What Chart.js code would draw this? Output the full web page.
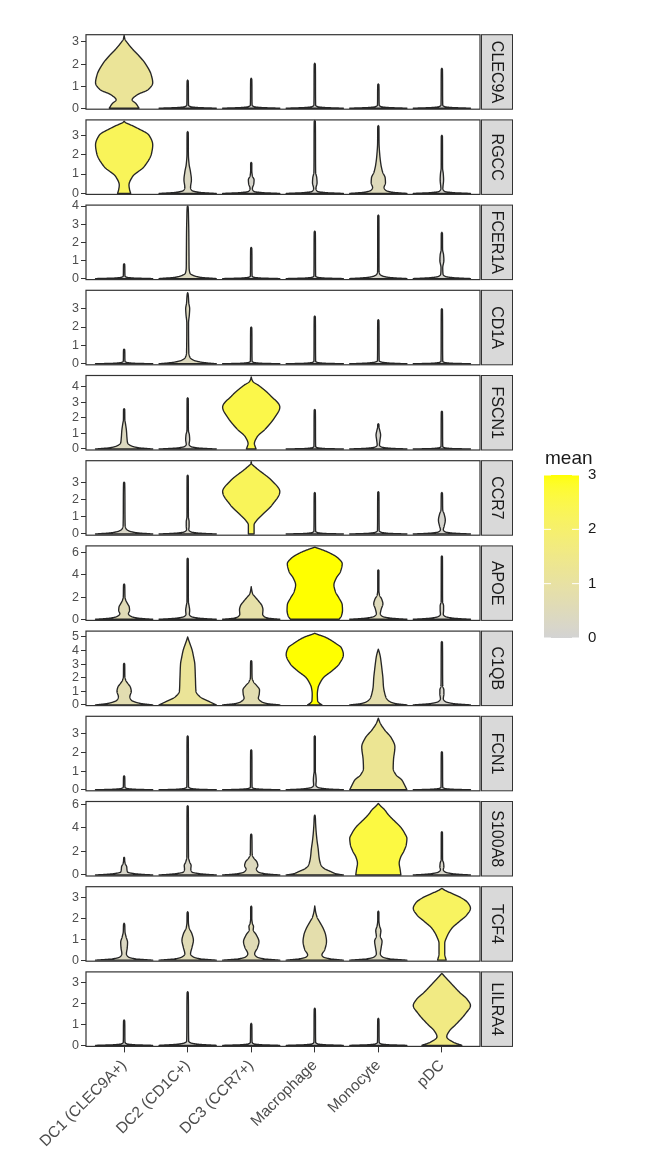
<!DOCTYPE html>
<html><head><meta charset="utf-8">
<script src="https://cdn.jsdelivr.net/npm/chart.js@4.4.0/dist/chart.umd.min.js"></script>
<style>
html,body{margin:0;padding:0;background:#fff;}
#wrap{position:relative;width:646px;height:1170px;overflow:hidden;background:#fff;}
#wrap canvas{position:absolute;left:0;top:0;}
</style></head><body><div id="wrap"></div>
<script>
// ---------------- data ----------------
const cellTypes = ['DC1 (CLEC9A+)','DC2 (CD1C+)','DC3 (CCR7+)','Macrophage','Monocyte','pDC'];
const genes = ['CLEC9A','RGCC','FCER1A','CD1A','FSCN1','CCR7','APOE','C1QB','FCN1','S100A8','TCF4','LILRA4'];
const yTicks = [[0,1,2,3],[0,1,2,3],[0,1,2,3,4],[0,1,2,3],[0,1,2,3,4],[0,1,2,3],[0,2,4,6],[0,1,2,3,4,5],[0,1,2,3],[0,2,4,6],[0,1,2,3],[0,1,2,3]];
const yLimits = [[-0.045,3.33],[-0.05,3.79],[-0.055,4.05],[-0.055,4.0],[-0.065,4.74],[-0.07,4.24],[-0.1,6.61],[-0.05,5.43],[-0.055,3.95],[-0.085,6.23],[-0.05,3.5],[-0.05,3.5]];
// mean expression per gene (rows) and cell type (columns) -> fill colour
const meanExpr = [
  [1.2,0.05,0.05,0.05,0.05,0.05],
  [2.3,0.35,0.15,0.15,0.5,0.1],
  [0.05,0.4,0.05,0.05,0.15,0.1],
  [0.05,0.45,0.05,0.05,0.05,0.05],
  [0.4,0.15,2.5,0.05,0.1,0.05],
  [0.25,0.2,2.3,0.05,0.05,0.1],
  [0.6,0.3,0.9,3.0,0.5,0.2],
  [0.7,1.2,0.7,3.3,0.8,0.15],
  [0.05,0.05,0.05,0.1,1.3,0.05],
  [0.2,0.25,0.45,0.7,2.6,0.2],
  [0.35,0.6,0.6,0.8,0.4,2.2],
  [0.05,0.1,0.05,0.05,0.05,1.6]
];
const legendTicks = [0,1,2,3];
// violin outlines per gene: for each cell type, [expression, relative half-width]
const CLEC9A = [
  [[0,.52],[.2,.42],[.38,.28],[.6,.45],[.85,.85],[1.15,1],[1.5,.95],[2.04,.73],[2.4,.5],[2.64,.32],[2.95,.12],[3.12,.03],[3.3,0]],
  [[0,1],[.03,.35],[.07,.1],[.14,.03],[1.22,.02],[1.28,0]],
  [[0,1],[.03,.35],[.07,.1],[.14,.03],[1.3,.02],[1.36,0]],
  [[0,1],[.03,.35],[.07,.1],[.14,.03],[1.98,.02],[2.04,0]],
  [[0,1],[.03,.35],[.07,.1],[.14,.03],[1.06,.02],[1.1,0]],
  [[0,1],[.03,.35],[.07,.1],[.14,.03],[1.76,.02],[1.81,0]]
];
const RGCC = [
  [[0,.23],[.2,.19],[.43,.17],[.86,.29],[1.38,.7],[2.07,.96],[2.5,1],[3.0,.87],[3.36,.47],[3.55,.2],[3.65,.05],[3.72,0]],
  [[0,1],[.05,.45],[.15,.15],[.3,.1],[.7,.13],[1.1,.1],[1.5,.05],[2.0,.025],[3.13,.02],[3.19,0]],
  [[0,1],[.04,.4],[.1,.1],[.25,.04],[.5,.09],[.7,.1],[.9,.04],[1.2,.02],[1.55,.02],[1.6,0]],
  [[0,1],[.04,.4],[.1,.1],[.25,.04],[.55,.08],[.8,.07],[1.1,.03],[3.7,.02],[3.76,0]],
  [[0,1],[.06,.5],[.15,.27],[.3,.2],[.55,.25],[.8,.24],[1.1,.15],[1.5,.09],[2.0,.05],[2.6,.025],[3.44,.02],[3.5,0]],
  [[0,1],[.04,.4],[.1,.1],[.25,.035],[.7,.06],[1.0,.05],[1.3,.025],[2.94,.02],[3.0,0]]
];
const FCER1A = [
  [[0,1],[.03,.35],[.07,.1],[.14,.03],[.78,.02],[.82,0]],
  [[0,1],[.07,.45],[.17,.2],[.3,.08],[.6,.05],[1.5,.045],[2.5,.04],[3.3,.03],[3.95,.015],[4.0,0]],
  [[0,1],[.03,.35],[.07,.1],[.14,.03],[1.66,.02],[1.72,0]],
  [[0,1],[.03,.35],[.07,.1],[.14,.03],[2.56,.02],[2.62,0]],
  [[0,1],[.06,.4],[.14,.15],[.25,.05],[.4,.025],[3.45,.02],[3.5,0]],
  [[0,1],[.05,.4],[.12,.12],[.25,.04],[.6,.03],[1.0,.07],[1.3,.06],[1.6,.025],[2.49,.02],[2.55,0]]
];
const CD1A = [
  [[0,1],[.03,.35],[.07,.1],[.14,.03],[.76,.02],[.8,0]],
  [[0,1],[.08,.5],[.2,.2],[.35,.08],[.6,.04],[2.2,.03],[2.7,.06],[3.0,.07],[3.3,.04],[3.8,.015],[3.87,0]],
  [[0,1],[.03,.35],[.07,.1],[.14,.03],[1.95,.02],[2.0,0]],
  [[0,1],[.03,.35],[.07,.1],[.14,.03],[2.55,.02],[2.6,0]],
  [[0,1],[.04,.4],[.09,.12],[.17,.03],[2.35,.02],[2.4,0]],
  [[0,1],[.03,.35],[.07,.1],[.14,.03],[2.95,.02],[3.0,0]]
];
const FSCN1 = [
  [[0,1],[.08,.5],[.2,.25],[.4,.12],[.7,.1],[1.2,.08],[1.6,.05],[1.9,.025],[2.55,.02],[2.6,0]],
  [[0,1],[.06,.4],[.15,.12],[.3,.05],[.6,.07],[.9,.06],[1.2,.025],[3.25,.02],[3.3,0]],
  [[0,.17],[.2,.13],[.34,.11],[.76,.2],[1.3,.5],[1.95,.79],[2.7,1],[3.45,.67],[4.1,.26],[4.35,.06],[4.5,.02],[4.65,0]],
  [[0,1],[.03,.35],[.08,.1],[.16,.03],[2.5,.02],[2.55,0]],
  [[0,1],[.05,.4],[.12,.12],[.25,.04],[.6,.06],[.9,.08],[1.2,.05],[1.4,.025],[1.58,.02],[1.63,0]],
  [[0,1],[.03,.35],[.08,.1],[.16,.03],[2.39,.02],[2.44,0]]
];
const CCR7 = [
  [[0,1],[.07,.45],[.17,.18],[.3,.07],[.5,.035],[2.95,.02],[3.0,0]],
  [[0,1],[.05,.4],[.12,.12],[.25,.04],[.45,.05],[.7,.05],[1.0,.025],[3.35,.02],[3.4,0]],
  [[0,.1],[.52,.1],[.8,.2],[1.1,.38],[1.68,.73],[2.45,1],[3.12,.7],[3.7,.26],[3.95,.08],[4.05,.02],[4.18,0]],
  [[0,1],[.03,.35],[.08,.1],[.16,.03],[2.35,.02],[2.4,0]],
  [[0,1],[.04,.35],[.1,.1],[.2,.03],[2.4,.02],[2.45,0]],
  [[0,1],[.05,.4],[.12,.12],[.25,.05],[.45,.08],[.8,.12],[1.15,.08],[1.4,.03],[2.35,.02],[2.4,0]]
];
const APOE = [
  [[0,1],[.1,.5],[.25,.25],[.5,.15],[.8,.19],[1.1,.18],[1.4,.12],[1.7,.06],[2.0,.03],[3.1,.02],[3.18,0]],
  [[0,1],[.1,.4],[.25,.12],[.45,.06],[.8,.07],[1.2,.05],[1.6,.025],[5.43,.02],[5.5,0]],
  [[0,1],[.1,.6],[.25,.45],[.45,.4],[.85,.41],[1.2,.38],[1.6,.27],[2.0,.14],[2.3,.05],[2.6,.02],[2.94,0]],
  [[0,.85],[.3,.93],[.8,.97],[1.3,.96],[1.9,.85],[2.5,.72],[3.1,.67],[3.7,.75],[4.3,.9],[5.0,.96],[5.5,.82],[6.0,.5],[6.3,.22],[6.45,.05],[6.5,0]],
  [[0,1],[.1,.45],[.25,.15],[.5,.07],[.9,.1],[1.4,.16],[1.8,.12],[2.2,.04],[2.6,.02],[4.38,.02],[4.45,0]],
  [[0,1],[.1,.4],[.25,.12],[.45,.05],[.8,.06],[1.2,.06],[1.6,.025],[5.63,.02],[5.7,0]]
];
const C1QB = [
  [[0,1],[.1,.6],[.2,.4],[.35,.25],[.6,.2],[1.0,.25],[1.3,.22],[1.6,.12],[1.8,.06],[2.1,.025],[3.0,.02],[3.06,0]],
  [[0,1],[.15,.85],[.3,.7],[.6,.43],[1.0,.29],[2.0,.27],[3.0,.25],[3.6,.2],[4.0,.16],[4.5,.08],[4.8,.03],[5.0,0]],
  [[0,1],[.1,.55],[.25,.35],[.5,.25],[.8,.28],[1.1,.29],[1.4,.2],[1.7,.08],[2.0,.03],[3.2,.02],[3.26,0]],
  [[0,.25],[.15,.15],[.3,.1],[.8,.09],[1.3,.12],[1.6,.18],[2.0,.3],[2.5,.6],[3.0,.85],[3.7,1],[4.2,.93],[4.5,.75],[5.0,.35],[5.2,.08],[5.27,0]],
  [[0,1],[.1,.6],[.25,.4],[.5,.28],[.8,.23],[1.35,.18],[2.0,.16],[2.57,.13],[3.1,.1],[3.55,.07],[3.9,.03],[4.1,0]],
  [[0,1],[.1,.4],[.25,.12],[.45,.05],[.8,.07],[1.1,.07],[1.4,.03],[4.6,.02],[4.66,0]]
];
const FCN1 = [
  [[0,1],[.03,.35],[.07,.1],[.14,.03],[.71,.02],[.75,0]],
  [[0,1],[.03,.35],[.08,.1],[.16,.03],[2.84,.02],[2.9,0]],
  [[0,1],[.03,.35],[.07,.1],[.14,.03],[2.1,.02],[2.15,0]],
  [[0,1],[.05,.4],[.12,.12],[.25,.04],[.5,.05],[.75,.04],[1.0,.02],[2.85,.02],[2.9,0]],
  [[0,1],[.25,.92],[.53,.82],[.8,.62],[1.15,.52],[1.6,.53],[2.3,.58],[2.8,.45],[3.2,.23],[3.6,.06],[3.85,0]],
  [[0,1],[.03,.35],[.07,.1],[.14,.03],[2.0,.02],[2.05,0]]
];
const S100A8 = [
  [[0,1],[.1,.4],[.25,.12],[.45,.1],[.7,.09],[.95,.04],[1.2,.02],[1.45,.015],[1.5,0]],
  [[0,1],[.1,.45],[.25,.15],[.5,.11],[.8,.12],[1.1,.07],[1.5,.03],[5.8,.02],[5.87,0]],
  [[0,1],[.1,.5],[.25,.25],[.5,.18],[.8,.23],[1.1,.2],[1.4,.1],[1.7,.035],[3.4,.02],[3.47,0]],
  [[0,1],[.1,.75],[.3,.55],[.55,.33],[.83,.22],[1.5,.15],[2.2,.12],[2.9,.08],[3.6,.05],[4.3,.03],[5.0,.015],[5.08,0]],
  [[0,.79],[.5,.76],[1.0,.73],[1.5,.78],[2.0,.89],[2.6,.98],[3.1,1],[3.5,.93],[4.0,.8],[4.5,.6],[4.8,.47],[5.2,.32],[5.5,.23],[5.85,.08],[6.07,0]],
  [[0,1],[.1,.4],[.25,.12],[.45,.05],[.7,.07],[1.0,.06],[1.3,.025],[3.6,.02],[3.67,0]]
];
const TCF4 = [
  [[0,1],[.06,.4],[.15,.15],[.3,.08],[.6,.11],[.85,.12],[1.1,.07],[1.35,.03],[1.7,.02],[1.76,0]],
  [[0,1],[.06,.45],[.15,.2],[.3,.1],[.6,.15],[.95,.2],[1.25,.15],[1.55,.05],[1.8,.025],[2.25,.02],[2.31,0]],
  [[0,1],[.06,.45],[.15,.2],[.3,.12],[.6,.22],[.88,.27],[1.2,.18],[1.45,.07],[1.6,.08],[1.75,.04],[2.0,.02],[2.52,.02],[2.58,0]],
  [[0,1],[.06,.55],[.15,.3],[.25,.25],[.5,.35],[.9,.41],[1.2,.38],[1.5,.3],[1.8,.18],[2.05,.08],[2.3,.03],[2.58,0]],
  [[0,1],[.06,.4],[.15,.15],[.3,.07],[.6,.1],[.9,.13],[1.15,.07],[1.4,.09],[1.65,.04],[1.9,.02],[2.28,.02],[2.34,0]],
  [[0,.15],[.3,.1],[.8,.1],[1.1,.17],[1.52,.35],[1.85,.62],[2.15,.87],[2.47,1],[2.75,.9],[2.95,.7],[3.15,.4],[3.32,.12],[3.42,0]]
];
const LILRA4 = [
  [[0,1],[.03,.35],[.07,.1],[.14,.03],[1.16,.02],[1.21,0]],
  [[0,1],[.05,.4],[.11,.12],[.2,.035],[2.5,.02],[2.56,0]],
  [[0,1],[.03,.35],[.07,.1],[.14,.03],[1.0,.02],[1.05,0]],
  [[0,1],[.03,.35],[.07,.1],[.14,.03],[1.72,.02],[1.77,0]],
  [[0,1],[.03,.35],[.07,.1],[.14,.03],[1.24,.02],[1.29,0]],
  [[0,.7],[.15,.4],[.41,.17],[.7,.27],[.97,.47],[1.5,.82],[1.9,1],[2.2,.88],[2.5,.64],[3.0,.29],[3.25,.12],[3.43,0]]
];
const violins = [CLEC9A, RGCC, FCER1A, CD1A, FSCN1, CCR7, APOE, C1QB, FCN1, S100A8, TCF4, LILRA4];

// ---------------- layout ----------------
const W = 646, H = 1170;
const PANEL_TOP0 = 34.7, PANEL_PITCH = 85.2, PANEL_H = 74.5;
const PLOT_LEFT = 86, PLOT_RIGHT = 480;
const FONT = "'Liberation Sans', Arial, Helvetica, sans-serif";
Chart.defaults.font.family = FONT;

// ---------------- colour (Lab interpolation lightgrey -> yellow) ----------------
function lin(c){c/=255;return c<=0.04045?c/12.92:Math.pow((c+0.055)/1.055,2.4);}
function unlin(c){const v=c<=0.0031308?12.92*c:1.055*Math.pow(c,1/2.4)-0.055;return Math.round(Math.max(0,Math.min(1,v))*255);}
function rgb2lab(r,g,b){const R=lin(r),G=lin(g),B=lin(b);
  const X=(0.4124*R+0.3576*G+0.1805*B)/0.95047,Y=(0.2126*R+0.7152*G+0.0722*B),Z=(0.0193*R+0.1192*G+0.9505*B)/1.08883;
  const f=t=>t>0.008856?Math.cbrt(t):7.787*t+16/116;
  const fx=f(X),fy=f(Y),fz=f(Z);return [116*fy-16,500*(fx-fy),200*(fy-fz)];}
function lab2rgb(L,a,b){const fy=(L+16)/116,fx=fy+a/500,fz=fy-b/200;
  const fi=t=>t*t*t>0.008856?t*t*t:(t-16/116)/7.787;
  const X=fi(fx)*0.95047,Y=fi(fy),Z=fi(fz)*1.08883;
  const R=3.2406*X-1.5372*Y-0.4986*Z,G=-0.9689*X+1.8758*Y+0.0415*Z,B=0.0557*X-0.2040*Y+1.0570*Z;
  return [unlin(R),unlin(G),unlin(B)];}
const LOW = rgb2lab(211,211,211), HIGH = rgb2lab(255,255,0);
function fillFor(m){const t=Math.max(0,Math.min(1,m/3));
  const c=lab2rgb(LOW[0]+(HIGH[0]-LOW[0])*t,LOW[1]+(HIGH[1]-LOW[1])*t,LOW[2]+(HIGH[2]-LOW[2])*t);
  return `rgb(${c[0]},${c[1]},${c[2]})`;}

// monotone cubic sampling of an outline
function sampleOutline(pts){
  const n=pts.length, xs=pts.map(p=>p[0]), ys=pts.map(p=>p[1]);
  const d=[], s=[];
  for(let i=0;i<n-1;i++) d[i]=(ys[i+1]-ys[i])/(xs[i+1]-xs[i]);
  s[0]=d[0]; s[n-1]=d[n-2];
  for(let i=1;i<n-1;i++){
    if(d[i-1]*d[i]<=0){s[i]=0;continue;}
    const h0=xs[i]-xs[i-1],h1=xs[i+1]-xs[i];
    s[i]=3*(h0+h1)/((2*h1+h0)/d[i-1]+(h1+2*h0)/d[i]);
  }
  const out=[];
  for(let i=0;i<n-1;i++){
    const h=xs[i+1]-xs[i], steps=16;
    for(let k=0;k<steps;k++){
      const t=k/steps,t2=t*t,t3=t2*t;
      const w=(2*t3-3*t2+1)*ys[i]+(t3-2*t2+t)*h*s[i]+(-2*t3+3*t2)*ys[i+1]+(t3-t2)*h*s[i+1];
      out.push([xs[i]+t*h, Math.max(0,w)]);
    }
  }
  out.push([xs[n-1],ys[n-1]]);
  return out;
}

const violinPlugin = {
  id: 'violins',
  afterDatasetsDraw(chart, args, opts){
    const g = opts.g, ctx = chart.ctx, xs = chart.scales.x, ys = chart.scales.y;
    violins[g].forEach((pts, j) => {
      const cx = xs.getPixelForValue(j);
      const hw = xs.getPixelForValue(j + 0.45) - cx;
      const smp = sampleOutline(pts);
      ctx.save();
      ctx.beginPath();
      smp.forEach(([v,w],k)=>{const px=cx+w*hw,py=ys.getPixelForValue(v); if(k)ctx.lineTo(px,py);else ctx.moveTo(px,py);});
      for(let k=smp.length-1;k>=0;k--){const [v,w]=smp[k]; ctx.lineTo(cx-w*hw, ys.getPixelForValue(v));}
      ctx.closePath();
      ctx.fillStyle = fillFor(meanExpr[g][j]);
      ctx.fill();
      ctx.lineWidth = 1.35; ctx.strokeStyle = '#262626'; ctx.lineJoin = 'round';
      ctx.stroke();
      ctx.restore();
    });
  },
  afterDraw(chart, args, opts){
    const g = opts.g, ctx = chart.ctx, a = chart.chartArea;
    ctx.save();
    // panel border
    ctx.strokeStyle = '#333333'; ctx.lineWidth = 1.2;
    ctx.strokeRect(a.left, a.top, a.right - a.left, a.bottom - a.top);
    // strip
    const sx = a.right + 1.5, sw = 31;
    ctx.fillStyle = '#d9d9d9';
    ctx.fillRect(sx, a.top, sw, a.bottom - a.top);
    ctx.strokeStyle = '#333333'; ctx.lineWidth = 1;
    ctx.strokeRect(sx, a.top, sw, a.bottom - a.top);
    ctx.translate(sx + sw/2, (a.top + a.bottom)/2);
    ctx.rotate(Math.PI/2);
    ctx.fillStyle = '#1a1a1a';
    ctx.font = `16px ${FONT}`;
    ctx.textAlign = 'center'; ctx.textBaseline = 'middle';
    ctx.fillText(genes[g], 0, 1);
    ctx.restore();
    if (g === genes.length - 1) drawLegend(ctx);
  }
};

function drawLegend(ctx){
  const bx = 544, bw = 35, yTop = 475, yBot = 638;
  const yOf = v => yBot - (v/3)*(yBot - yTop);
  ctx.save();
  ctx.fillStyle = '#1a1a1a';
  ctx.font = `19px ${FONT}`;
  ctx.textAlign = 'left'; ctx.textBaseline = 'alphabetic';
  ctx.fillText('mean', 545, 464);
  const grad = ctx.createLinearGradient(0, yBot, 0, yTop);
  for (let k = 0; k <= 30; k++) grad.addColorStop(k/30, fillFor(3*k/30));
  ctx.fillStyle = grad;
  ctx.fillRect(bx, yTop, bw, yBot - yTop);
  ctx.strokeStyle = '#ffffff'; ctx.lineWidth = 1;
  legendTicks.forEach(v => {
    const y = yOf(v);
    ctx.beginPath();
    ctx.moveTo(bx, y); ctx.lineTo(bx + 7, y);
    ctx.moveTo(bx + bw - 7, y); ctx.lineTo(bx + bw, y);
    ctx.stroke();
  });
  ctx.fillStyle = '#1a1a1a';
  ctx.font = `15px ${FONT}`;
  ctx.textBaseline = 'middle';
  legendTicks.forEach(v => ctx.fillText(String(v), 588, yOf(v)));
  ctx.restore();
}

const wrap = document.getElementById('wrap');
genes.forEach((gene, g) => {
  const top = PANEL_TOP0 + PANEL_PITCH * g;
  const bottom = top + PANEL_H;
  const isLast = g === genes.length - 1;
  const cv = document.createElement('canvas');
  cv.width = W; cv.height = H;
  cv.style.width = W + 'px'; cv.style.height = H + 'px';
  wrap.appendChild(cv);
  new Chart(cv, {
    type: 'scatter',
    data: { datasets: [] },
    plugins: [violinPlugin],
    options: {
      responsive: false, animation: false, events: [],
      layout: { padding: { left: 0, right: W - PLOT_RIGHT, top: top, bottom: isLast ? 0 : H - bottom } },
      plugins: { legend: { display: false }, tooltip: { enabled: false }, violins: { g: g } },
      scales: {
        x: {
          type: 'linear', min: -0.6, max: 5.6, bounds: 'data', display: isLast,
          afterBuildTicks: s => { s.ticks = cellTypes.map((_, j) => ({ value: j })); },
          afterFit: s => { s.height = isLast ? H - bottom : 0; },
          ticks: { autoSkip: false, maxRotation: 45, minRotation: 45, color: '#4d4d4d',
                   font: { size: 15.5 }, padding: 4, callback: v => cellTypes[v] },
          grid: { display: true, drawOnChartArea: false, drawTicks: true, tickLength: 6, color: '#333333', lineWidth: 1 },
          border: { display: false }
        },
        y: {
          type: 'linear', min: yLimits[g][0], max: yLimits[g][1], bounds: 'data',
          afterBuildTicks: s => { s.ticks = yTicks[g].map(v => ({ value: v })); },
          afterFit: s => { s.width = PLOT_LEFT; },
          ticks: { autoSkip: false, color: '#4d4d4d', font: { size: 12.5 }, padding: 2 },
          grid: { display: true, drawOnChartArea: false, drawTicks: true, tickLength: 5, color: '#333333', lineWidth: 1 },
          border: { display: false }
        }
      }
    }
  });
});
</script></body></html>
